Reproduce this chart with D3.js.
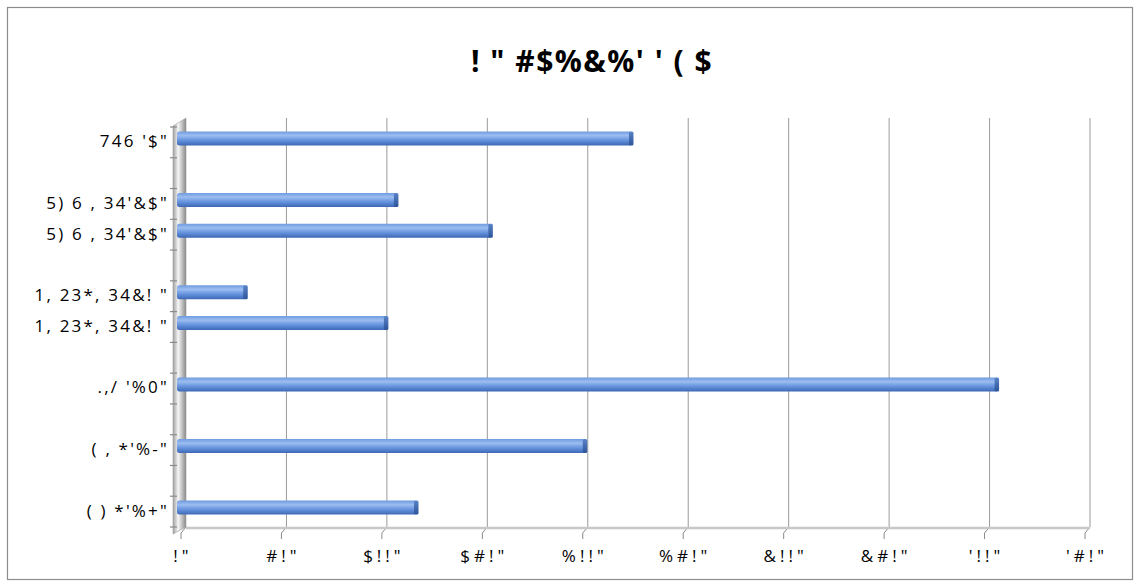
<!DOCTYPE html>
<html>
<head>
<meta charset="utf-8">
<script src="https://cdn.jsdelivr.net/npm/d3@7"></script>
<style>
  html, body { margin: 0; padding: 0; background: #fff; }
  svg { display: block; }
  text { font-family: "Open Sans", "Noto Sans", sans-serif; fill: #000; }
</style>
</head>
<body>
<svg id="chart" width="1140" height="588"></svg>
<script>
// Chart data: categories from top to bottom (blank rows are spacer rows)
const title = "! \" #$%&%' ' ( $";
const categories = [
  "746 '$\"", "", "5) 6 , 34'&$\"", "5) 6 , 34'&$\"", "",
  "1, 23*, 34&! \"", "1, 23*, 34&! \"", "", ".,/ '%0\"", "",
  "( , *'%-\"", "", "( ) *'%+\""
];
const values = [222, null, 105, 152, null, 30, 100, null, 404, null, 199, null, 115];
const xTicks = [0, 50, 100, 150, 200, 250, 300, 350, 400, 450];
const xTickLabels = ["!\"", "#!\"", "$!!\"", "$#!\"", "%!!\"", "%#!\"", "&!!\"", "&#!\"", "'!!\"", "'#!\""];

const svg = d3.select("#chart");

// Outer frame
svg.append("rect")
  .attr("x", 7.5).attr("y", 7.5)
  .attr("width", 1125).attr("height", 572)
  .attr("fill", "#fff").attr("stroke", "#8c8c8c").attr("stroke-width", 1.2);

// Title
svg.append("text")
  .attr("x", 592).attr("y", 72)
  .attr("text-anchor", "middle")
  .style("font-size", "30px").style("font-weight", "bold")
  .style("letter-spacing", "1.5px")
  .text(title);

// Geometry of the pseudo-3D plot
const plotTop = 118, floorY = 527;
const depthX = -5, depthY = 6;   // offset from back wall to front edge
const x = d3.scaleLinear().domain([0, 450]).range([186, 1090]);
const y = d3.scaleBand().domain(d3.range(categories.length)).range([127, 527]).paddingInner(0).paddingOuter(0);

const defs = svg.append("defs");

// Left wall gradient
const wallGrad = defs.append("linearGradient").attr("id", "wallGrad")
  .attr("x1", "0").attr("x2", "1").attr("y1", "0").attr("y2", "0");
wallGrad.append("stop").attr("offset", "0").attr("stop-color", "#a0a0a0");
wallGrad.append("stop").attr("offset", "0.4").attr("stop-color", "#f6f6f6");
wallGrad.append("stop").attr("offset", "1").attr("stop-color", "#8a8a8a");

// Bar gradient (cylinder-like shading)
const barGrad = defs.append("linearGradient").attr("id", "barGrad")
  .attr("x1", "0").attr("x2", "0").attr("y1", "0").attr("y2", "1");
barGrad.append("stop").attr("offset", "0").attr("stop-color", "#6f9be0");
barGrad.append("stop").attr("offset", "0.3").attr("stop-color", "#9cbdf0");
barGrad.append("stop").attr("offset", "0.6").attr("stop-color", "#6a97e0");
barGrad.append("stop").attr("offset", "1").attr("stop-color", "#3c68b6");

const capGrad = defs.append("linearGradient").attr("id", "capGrad")
  .attr("x1", "0").attr("x2", "0").attr("y1", "0").attr("y2", "1");
capGrad.append("stop").attr("offset", "0").attr("stop-color", "#5a84c8");
capGrad.append("stop").attr("offset", "1").attr("stop-color", "#2d5499");

// Back-wall gridlines and floor ticks
const grid = svg.append("g");
xTicks.forEach((t, i) => {
  const gx = x(t);
  if (i > 0) {
    grid.append("line")
      .attr("x1", gx).attr("x2", gx).attr("y1", plotTop).attr("y2", floorY)
      .attr("stroke", "#9a9a9a").attr("stroke-width", 1);
  }
  grid.append("path")
    .attr("d", `M${gx},${floorY} L${gx + depthX},${floorY + depthY} L${gx + depthX},${floorY + depthY + 6}`)
    .attr("fill", "none").attr("stroke", "#8a8a8a").attr("stroke-width", 1);
});

// Floor edge
svg.append("line")
  .attr("x1", x(0)).attr("x2", x(450)).attr("y1", floorY + 1).attr("y2", floorY + 1)
  .attr("stroke", "#c8c8c8").attr("stroke-width", 2.5);

// Left wall
svg.append("path")
  .attr("d", `M173,${plotTop + 8} L186,${plotTop} L186,${floorY} L173,${floorY + depthY + 1} Z`)
  .attr("fill", "url(#wallGrad)").attr("stroke", "#a0a0a0").attr("stroke-width", 0.6);

// Y axis ticks at band boundaries
const yt = svg.append("g");
d3.range(categories.length + 1).forEach(k => {
  const yy = 127 + k * y.step();
  yt.append("line")
    .attr("x1", 170).attr("x2", 177).attr("y1", yy).attr("y2", yy)
    .attr("stroke", "#8a8a8a").attr("stroke-width", 1.2);
});

// Category labels
svg.append("g").selectAll("text")
  .data(categories)
  .join("text")
  .attr("x", 169)
  .attr("y", (d, i) => y(i) + y.bandwidth() / 2 - 1)
  .attr("dy", "0.35em")
  .attr("text-anchor", "end")
  .style("font-size", "17px")
  .style("letter-spacing", "2.2px")
  .text(d => d);

// Bars
const barH = 14;
const barOff = -4;   // bars sit slightly above band centre (perspective)
const bars = svg.append("g").selectAll("g")
  .data(values.map((v, i) => ({ v, i })).filter(d => d.v != null))
  .join("g");

bars.append("rect")
  .attr("x", 177)
  .attr("y", d => y(d.i) + y.bandwidth() / 2 - barH / 2 + barOff)
  .attr("width", d => x(d.v) - 177)
  .attr("height", barH)
  .attr("rx", 2.5)
  .attr("fill", "url(#barGrad)");

bars.append("rect")
  .attr("x", d => x(d.v) - 3)
  .attr("y", d => y(d.i) + y.bandwidth() / 2 - barH / 2 + barOff)
  .attr("width", 4.5)
  .attr("height", barH)
  .attr("rx", 1.5)
  .attr("fill", "url(#capGrad)");

// X tick labels along the front edge
svg.append("g").selectAll("text")
  .data(xTicks)
  .join("text")
  .attr("x", d => x(d) + depthX + 2)
  .attr("y", 562)
  .attr("text-anchor", "middle")
  .style("font-size", "17px")
  .style("letter-spacing", "4px")
  .text((d, i) => xTickLabels[i]);
</script>
</body>
</html>
